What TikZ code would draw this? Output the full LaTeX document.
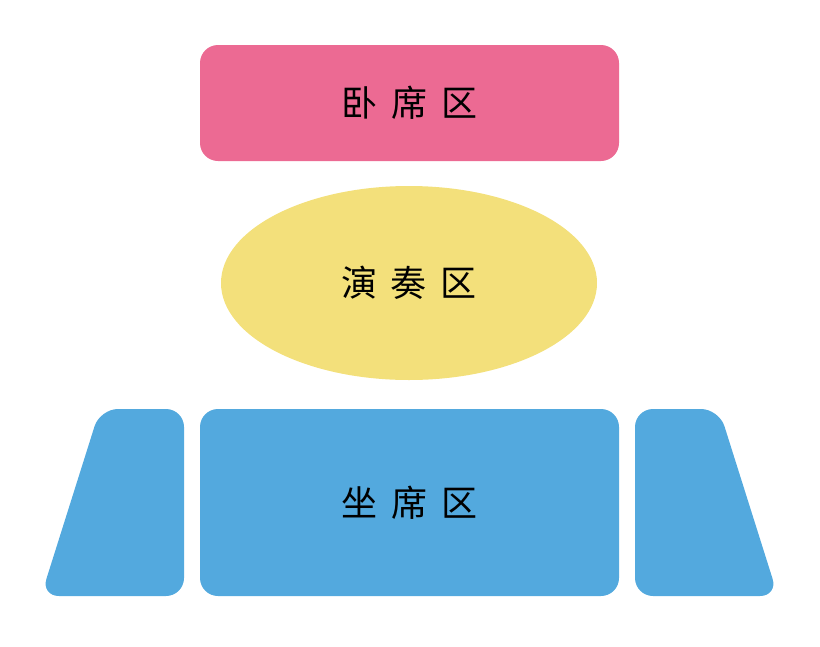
\documentclass[tikz,border=0pt]{standalone}
\usepackage{fontspec}
\newfontfamily\cjk{Noto Sans CJK SC}
\usepackage{tikz}
\usetikzlibrary{shapes.geometric}
\definecolor{bedpink}{HTML}{EC6A93}
\definecolor{stageyellow}{HTML}{F3E07B}
\definecolor{seatblue}{HTML}{53A9DE}
\newcommand{\gap}{\hspace{10.5pt}}

\begin{document}
\begin{tikzpicture}[
    x=0.75pt, y=-0.75pt,
    font=\cjk\fontsize{27pt}{32pt}\selectfont,
    area/.style={rectangle, rounded corners=13.5pt, minimum width=314.25pt, inner sep=0pt, text=black},
    stage/.style={ellipse, fill=stageyellow, minimum width=282pt, minimum height=145.5pt, inner sep=0pt},
    wing/.style={fill=seatblue, rounded corners=13.5pt}
]
    \useasboundingbox (0,0) rectangle (820,646);

    % Areas
    \node[area, fill=bedpink, minimum height=87pt] (bed) at (409.5,103) {卧\gap 席\gap 区};
    \node[stage] (play) at (409,283) {演\gap 奏\gap 区};
    \node[area, fill=seatblue, minimum height=140.25pt] (seat) at (409.5,502.5) {坐\gap 席\gap 区};

    % Side wings
    \fill[wing] (100,409) -- (184,409) -- (184,596) -- (41,596) -- cycle;
    \fill[wing] (635,409) -- (719,409) -- (778,596) -- (635,596) -- cycle;
\end{tikzpicture}
\end{document}
